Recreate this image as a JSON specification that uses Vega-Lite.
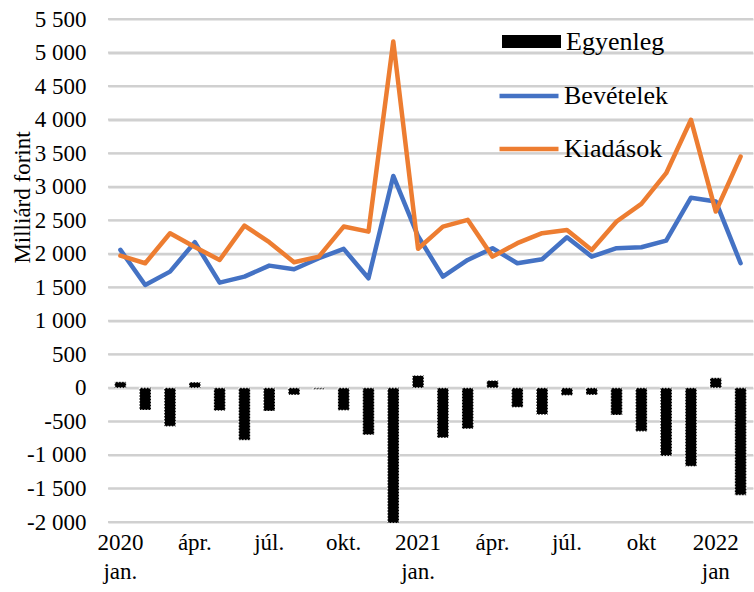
{
  "$schema": "https://vega.github.io/schema/vega-lite/v6.json",
  "width": 645,
  "height": 503,
  "autosize": "none",
  "padding": {"left": 108, "top": 19, "right": 1, "bottom": 70},
  "background": "white",
  "config": {
    "font": "Liberation Serif",
    "view": {"stroke": null},
    "axis": {"labelColor": "black", "titleColor": "black", "labelFont": "Liberation Serif", "titleFont": "Liberation Serif"},
    "axisY": {"labelFont": "Liberation Serif", "labelFontSize": 23, "grid": true, "gridColor": "#d0d0d0", "gridWidth": 2, "gridOpacity": 1}
  },
  "datasets": {
    "racs": [
      {"g": -2000}, {"g": -1500}, {"g": -1000}, {"g": -500}, {"g": 0}, {"g": 500}, {"g": 1000}, {"g": 1500},
      {"g": 2000}, {"g": 2500}, {"g": 3000}, {"g": 3500}, {"g": 4000}, {"g": 4500}, {"g": 5000}, {"g": 5500}
    ],
    "havi": [
      {"ho": "2020-01", "Bevételek": 2057, "Kiadások": 1972, "Egyenleg": 90},
      {"ho": "2020-02", "Bevételek": 1534, "Kiadások": 1858, "Egyenleg": -330},
      {"ho": "2020-03", "Bevételek": 1733, "Kiadások": 2306, "Egyenleg": -575},
      {"ho": "2020-04", "Bevételek": 2172, "Kiadások": 2100, "Egyenleg": 85},
      {"ho": "2020-05", "Bevételek": 1569, "Kiadások": 1907, "Egyenleg": -340},
      {"ho": "2020-06", "Bevételek": 1658, "Kiadások": 2420, "Egyenleg": -780},
      {"ho": "2020-07", "Bevételek": 1823, "Kiadások": 2172, "Egyenleg": -345},
      {"ho": "2020-08", "Bevételek": 1769, "Kiadások": 1873, "Egyenleg": -105},
      {"ho": "2020-09", "Bevételek": 1933, "Kiadások": 1957, "Egyenleg": -20},
      {"ho": "2020-10", "Bevételek": 2072, "Kiadások": 2405, "Egyenleg": -335},
      {"ho": "2020-11", "Bevételek": 1634, "Kiadások": 2330, "Egyenleg": -700},
      {"ho": "2020-12", "Bevételek": 3160, "Kiadások": 5166, "Egyenleg": -2015},
      {"ho": "2021-01", "Bevételek": 2260, "Kiadások": 2075, "Egyenleg": 185},
      {"ho": "2021-02", "Bevételek": 1658, "Kiadások": 2405, "Egyenleg": -745},
      {"ho": "2021-03", "Bevételek": 1907, "Kiadások": 2505, "Egyenleg": -610},
      {"ho": "2021-04", "Bevételek": 2082, "Kiadások": 1957, "Egyenleg": 110},
      {"ho": "2021-05", "Bevételek": 1858, "Kiadások": 2157, "Egyenleg": -290},
      {"ho": "2021-06", "Bevételek": 1918, "Kiadások": 2306, "Egyenleg": -400},
      {"ho": "2021-07", "Bevételek": 2246, "Kiadások": 2355, "Egyenleg": -112},
      {"ho": "2021-08", "Bevételek": 1957, "Kiadások": 2057, "Egyenleg": -105},
      {"ho": "2021-09", "Bevételek": 2082, "Kiadások": 2480, "Egyenleg": -405},
      {"ho": "2021-10", "Bevételek": 2097, "Kiadások": 2743, "Egyenleg": -650},
      {"ho": "2021-11", "Bevételek": 2196, "Kiadások": 3201, "Egyenleg": -1015},
      {"ho": "2021-12", "Bevételek": 2835, "Kiadások": 3997, "Egyenleg": -1170},
      {"ho": "2022-01", "Bevételek": 2780, "Kiadások": 2629, "Egyenleg": 150},
      {"ho": "2022-02", "Bevételek": 1858, "Kiadások": 3449, "Egyenleg": -1600}
    ]
  },
  "encoding": {
    "y": {
      "field": "ertek",
      "type": "quantitative",
      "scale": {"domain": [-2000, 5500], "nice": false, "zero": false},
      "axis": {
        "title": "Milliárd forint",
        "titleFont": "Liberation Serif",
        "titleFontSize": 23,
        "titleFontWeight": "normal",
        "titleAngle": -90,
        "titleAlign": "center",
        "titleBaseline": "middle",
        "titleX": -86,
        "titleY": 178,
        "values": [-2000, -1500, -1000, -500, 0, 500, 1000, 1500, 2000, 2500, 3000, 3500, 4000, 4500, 5000, 5500],
        "labelFont": "Liberation Serif",
        "labelFontSize": 23,
        "labelPadding": 22,
        "labelOverlap": false,
        "ticks": false,
        "domain": false,
        "grid": true,
        "gridColor": "#d0d0d0",
        "gridWidth": 2,
        "gridOpacity": 1,
        "labelExpr": "replace(replace(format(datum.value, ','), ',', ' '), '\u2212', '-')"
      }
    }
  },
  "layer": [
    {
      "data": {"name": "racs"},
      "mark": {"type": "rule", "color": "#d0d0d0", "strokeWidth": 2, "opacity": 1},
      "encoding": {
        "y": {"field": "g", "type": "quantitative"}
      }
    },
    {
      "data": {"name": "havi"},
      "transform": [{"fold": ["Egyenleg"], "as": ["sorozat", "ertek"]}],
      "mark": {"type": "bar", "width": 11.5, "stroke": "white", "strokeWidth": 1.2, "strokeDash": [1.5, 1.5]},
      "encoding": {
        "x": {
          "field": "ho",
          "type": "ordinal",
          "sort": null,
          "scale": {"paddingInner": 0, "paddingOuter": 0},
          "axis": {
            "title": null,
            "domain": false,
            "ticks": false,
            "grid": false,
            "labelAngle": 0,
            "labelFont": "Liberation Serif",
            "labelFontSize": 23,
            "labelPadding": 9,
            "labelLineHeight": 29,
            "labelBaseline": "top",
            "labelOverlap": false,
            "labelExpr": "datum.value == '2020-01' ? ['2020', 'jan.'] : datum.value == '2021-01' ? ['2021', 'jan.'] : datum.value == '2022-01' ? ['2022', 'jan'] : datum.value == '2021-10' ? 'okt' : slice(datum.value, 5) == '04' ? 'ápr.' : slice(datum.value, 5) == '07' ? 'júl.' : slice(datum.value, 5) == '10' ? 'okt.' : ''"
          }
        },
        "fill": {
          "field": "sorozat",
          "type": "nominal",
          "scale": {"domain": ["Egyenleg"], "range": ["black"]},
          "legend": {
            "title": null,
            "orient": "none",
            "legendX": 394,
            "legendY": -7,
            "symbolType": "M-1,-0.22H1V0.22H-1Z",
            "symbolSize": 3481,
            "symbolStrokeWidth": 0,
            "labelFontSize": 26,
            "labelFont": "Liberation Serif",
            "labelColor": "black",
            "labelOffset": 5,
            "padding": 0
          }
        }
      }
    },
    {
      "data": {"name": "havi"},
      "transform": [{"fold": ["Bevételek", "Kiadások"], "as": ["sorozat", "ertek"]}],
      "mark": {"type": "line", "strokeWidth": 4.5, "strokeJoin": "round", "strokeCap": "round"},
      "encoding": {
        "x": {"field": "ho", "type": "ordinal", "sort": null},
        "stroke": {
          "field": "sorozat",
          "type": "nominal",
          "scale": {"domain": ["Bevételek", "Kiadások"], "range": ["#4472C4", "#ED7D31"]},
          "legend": {
            "title": null,
            "orient": "none",
            "legendX": 389,
            "legendY": 45,
            "symbolType": "stroke",
            "symbolSize": 3481,
            "symbolStrokeWidth": 4.5,
            "rowPadding": 8,
            "labelFontSize": 26,
            "labelFont": "Liberation Serif",
            "labelColor": "black",
            "labelOffset": 3,
            "padding": 0
          }
        }
      }
    }
  ]
}
